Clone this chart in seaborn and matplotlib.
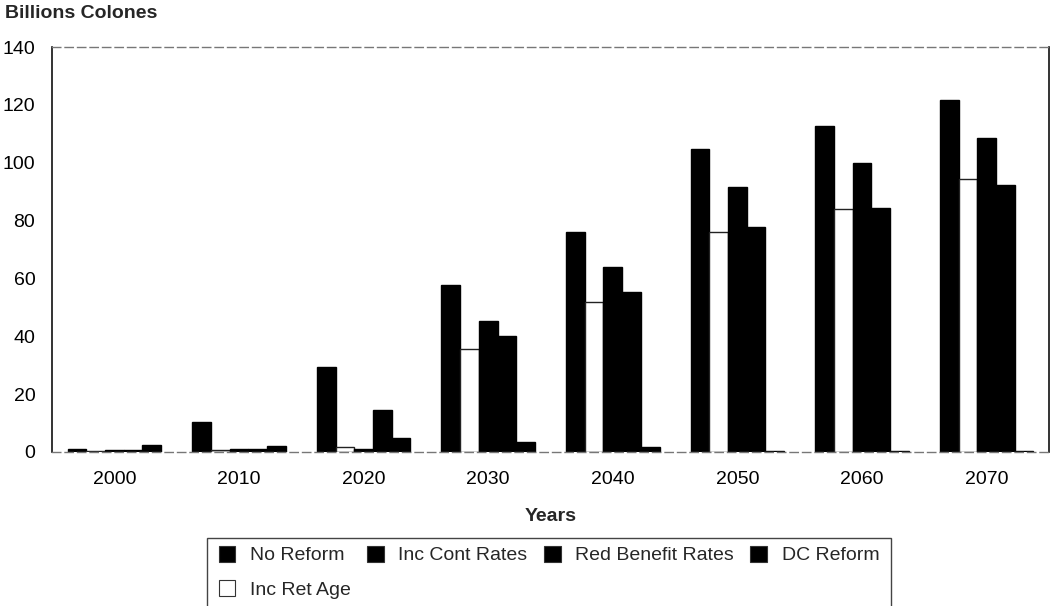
import matplotlib
matplotlib.use("Agg")
import matplotlib.pyplot as plt
from matplotlib.patches import Rectangle, Patch
import pandas as pd
import seaborn as sns

# Projected pension deficit by reform scenario (billions of colones)
years = ["2000", "2010", "2020", "2030", "2040", "2050", "2060", "2070"]
series_names = ["No Reform", "Inc Ret Age", "Inc Cont Rates", "Red Benefit Rates", "DC Reform"]
no_reform = [1.2, 10.5, 29.5, 57.8, 76.2, 104.6, 112.7, 121.7]
inc_ret_age = [0.3, 0.8, 1.7, 35.6, 51.7, 76.0, 83.9, 94.2]
inc_cont_rates = [0.8, 1.0, 1.0, 45.2, 64.0, 91.6, 99.8, 108.6]
red_benefit_rates = [0.7, 0.9, 14.5, 40.2, 55.2, 77.7, 84.2, 92.2]
dc_reform = [2.3, 2.0, 4.8, 3.6, 1.6, 0.4, 0.4, 0.4]
y_ticks = [0, 20, 40, 60, 80, 100, 120, 140]

values = [no_reform, inc_ret_age, inc_cont_rates, red_benefit_rates, dc_reform]
df = pd.DataFrame(
    [(y, s, v) for s, vals in zip(series_names, values) for y, v in zip(years, vals)],
    columns=["Year", "Scenario", "Value"],
)

fill = {"No Reform": "black", "Inc Ret Age": "white", "Inc Cont Rates": "black",
        "Red Benefit Rates": "black", "DC Reform": "black"}

sns.set_theme(style="white")
plt.rcParams["font.family"] = ["Liberation Sans", "DejaVu Sans"]

fig = plt.figure(figsize=(10.5, 6.06), dpi=100)
ax = fig.add_axes([52 / 1050, 1 - 452 / 606, (1049 - 52) / 1050, (452 - 47) / 606])

sns.barplot(data=df, x="Year", y="Value", hue="Scenario", hue_order=series_names,
            order=years, palette=fill, width=0.75, gap=0, legend=False, ax=ax)

# outline every bar; the white series needs a visible top edge
for container, name in zip(ax.containers, series_names):
    for bar in container:
        bar.set_edgecolor("#222222" if name == "Inc Ret Age" else "black")
        bar.set_linewidth(1.0)

ax.set_ylim(0, 140)
ax.set_xlim(-0.5, 7.5)
ax.set_yticks(y_ticks)
ax.set_yticklabels([str(t) for t in y_ticks])
ax.tick_params(axis="both", length=0, labelsize=14, colors="black")
ax.tick_params(axis="y", pad=12)
ax.tick_params(axis="x", pad=14)
ax.set_ylabel("")
ax.set_xlabel("Years", fontsize=14, fontweight="bold", labelpad=14)

for side in ("left", "right"):
    ax.spines[side].set_color("#111111")
    ax.spines[side].set_linewidth(1.2)
for side in ("top", "bottom"):
    ax.spines[side].set_color("#777777")
    ax.spines[side].set_linewidth(1.0)
    ax.spines[side].set_linestyle((0, (6, 3)))

fig.text(5 / 1050, 1 - 13 / 606, "Billions Colones", fontsize=14, fontweight="bold",
         ha="left", va="center")

handles = [Patch(facecolor=fill[n], edgecolor="#333333", linewidth=0.8) for n in series_names]
leg = fig.legend(handles, series_names, ncol=4, frameon=False, fontsize=14,
                 loc="upper center", bbox_to_anchor=(549 / 1050, 1 - 536 / 606),
                 borderpad=0, handlelength=0.85, handleheight=0.9,
                 handletextpad=0.75, columnspacing=0.85, labelspacing=0.8)

# legend box running off the lower edge of the figure
fig.add_artist(Rectangle((207 / 1050, -0.05), (891 - 207) / 1050, (606 - 538) / 606 + 0.05,
                         transform=fig.transFigure, fill=False, edgecolor="#444444",
                         linewidth=1.0))

fig.savefig("out.png", dpi=100)
